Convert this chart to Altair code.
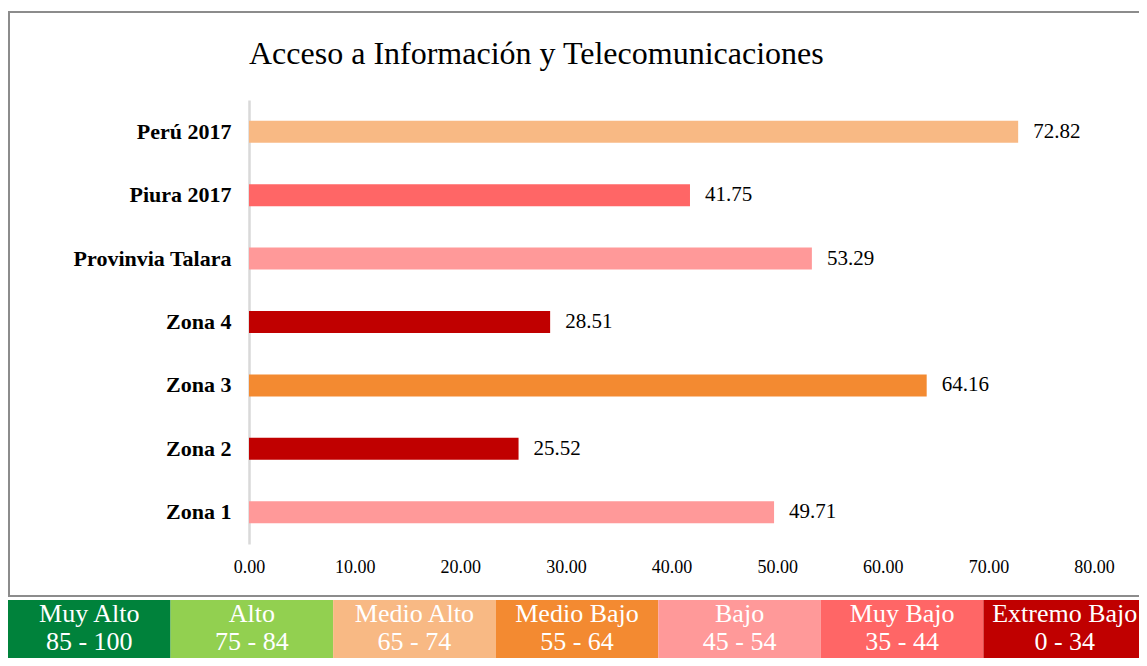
import altair as alt
import pandas as pd

# ---- data ----
categories = ["Perú 2017", "Piura 2017", "Provinvia Talara", "Zona 4", "Zona 3", "Zona 2", "Zona 1"]
values = [72.82, 41.75, 53.29, 28.51, 64.16, 25.52, 49.71]
bar_levels = ["Medio Alto", "Muy Bajo", "Bajo", "Extremo Bajo", "Medio Bajo", "Extremo Bajo", "Bajo"]

levels = ["Muy Alto", "Alto", "Medio Alto", "Medio Bajo", "Bajo", "Muy Bajo", "Extremo Bajo"]
level_ranges = ["85 - 100", "75 - 84", "65 - 74", "55 - 64", "45 - 54", "35 - 44", "0 - 34"]
level_colors = ["#00823B", "#92D050", "#F8B984", "#F38A31", "#FF9999", "#FF6666", "#C00000"]

x_ticks = [0, 10, 20, 30, 40, 50, 60, 70, 80]
title_text = "Acceso a Información y Telecomunicaciones"

FONT = "Liberation Serif"

bars_df = pd.DataFrame({"category": categories, "value": values, "level": bar_levels})
legend_df = pd.DataFrame({"level": levels, "range": level_ranges})
title_df = pd.DataFrame({"t": [title_text]})
frame_df = pd.DataFrame({"k": [0]})

color = alt.Color("level:N", scale=alt.Scale(domain=levels, range=level_colors), legend=None)

y_enc = alt.Y(
    "category:N", sort=categories,
    scale=alt.Scale(paddingInner=0.65, paddingOuter=0.325),
    axis=alt.Axis(title=None, labelFont=FONT, labelFontWeight="bold", labelFontSize=22,
                  labelColor="black", labelPadding=18, ticks=False, grid=False,
                  domainColor="#D9D9D9", domainWidth=2.5),
)
x_scale = alt.Scale(domain=[0, 80], nice=False, zero=True)

bars = alt.Chart(bars_df).mark_bar(size=22).encode(
    y=y_enc,
    x=alt.X("value:Q", scale=x_scale,
            axis=alt.Axis(title=None, values=x_ticks, format=".2f", labelFont=FONT,
                          labelFontSize=18, labelColor="black", domain=False, ticks=False,
                          grid=False, labelPadding=14, labelFlush=False)),
    color=color,
)
labels = alt.Chart(bars_df).mark_text(align="left", baseline="middle", dx=15,
                                      font=FONT, fontSize=21, color="black").encode(
    y=alt.Y("category:N", sort=categories),
    x=alt.X("value:Q", scale=x_scale),
    text=alt.Text("value:Q", format=".2f"),
)
main = alt.layer(bars, labels)

leg_x = alt.X("level:N", sort=levels,
              scale=alt.Scale(range=[-241, 897], paddingInner=0, paddingOuter=0), axis=None)
leg_rect = alt.Chart(legend_df).mark_rect().encode(
    x=leg_x, y=alt.value(500), y2=alt.value(570), color=color,
)
leg_t1 = alt.Chart(legend_df).mark_text(font=FONT, fontSize=26, color="white",
                                        baseline="middle").encode(
    x=leg_x, y=alt.value(514), text="level:N",
)
leg_t2 = alt.Chart(legend_df).mark_text(font=FONT, fontSize=26, color="white",
                                        baseline="middle").encode(
    x=leg_x, y=alt.value(542), text="range:N",
)
legend = alt.layer(leg_rect, leg_t1, leg_t2)

frame = alt.Chart(frame_df).mark_rect(filled=False, stroke="#8C8C8C", strokeWidth=2).encode(
    x=alt.value(-240), x2=alt.value(920), y=alt.value(-88), y2=alt.value(496),
)
title = alt.Chart(title_df).mark_text(align="left", baseline="alphabetic", font=FONT,
                                      fontSize=32, color="black").encode(
    x=alt.value(0), y=alt.value(-36), text="t:N",
)

chart = alt.layer(frame, title, main, legend).resolve_scale(x="independent").properties(
    width=845, height=444,
    padding={"left": 241, "top": 92, "right": 45, "bottom": 114},
    autosize=alt.AutoSizeParams(type="none"),
    background="white",
).configure_view(stroke=None)

chart.save("out.html", embed_options={"renderer": "svg", "actions": False})
